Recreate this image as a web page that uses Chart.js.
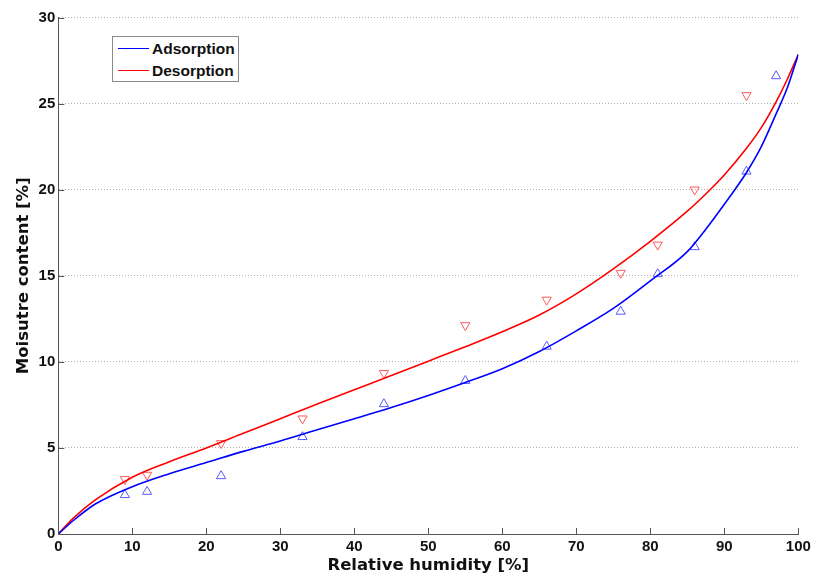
<!DOCTYPE html>
<html>
<head>
<meta charset="utf-8">
<script src="https://cdn.jsdelivr.net/npm/chart.js@4"></script>
<style>
  html, body { margin: 0; padding: 0; background: #fff; }
  #wrap { position: relative; width: 816px; height: 576px; }
  #legend {
    position: absolute; left: 112px; top: 36px; width: 127px; height: 46px;
    border: 1px solid #8a8a8a; background: #fff; box-sizing: border-box;
    font: bold 15.5px "Liberation Sans", Arial, sans-serif; color: #111;
  }
  .row { position: absolute; left: 0; height: 20px; line-height: 20px; white-space: nowrap; }
  .sw { position: absolute; left: 5px; top: 9px; width: 31px; height: 0; border-top: 1.5px solid; }
  .lbl { position: absolute; left: 39px; top: 0; }
</style>
</head>
<body>
<div id="wrap">
  <canvas id="c" width="816" height="576"></canvas>
  <div id="legend">
    <div class="row" style="top:2px"><span class="sw" style="border-color:#0000ff"></span><span class="lbl">Adsorption</span></div>
    <div class="row" style="top:24px"><span class="sw" style="border-color:#ff0000"></span><span class="lbl">Desorption</span></div>
  </div>
</div>
<script>
// Measured data (relative humidity %, moisture content %)
const adsHumidity = [9, 12, 22, 33, 44, 55, 66, 76, 81, 86, 93, 97];
const adsMeasured = [2.27, 2.46, 3.37, 5.64, 7.55, 8.9, 10.89, 12.92, 15.1, 16.67, 21.06, 26.6];
const desHumidity = [9, 12, 22, 33, 44, 55, 66, 76, 81, 86, 93];
const desMeasured = [3.18, 3.43, 5.27, 6.7, 9.34, 12.12, 13.6, 15.16, 16.8, 20.0, 25.48];

// Fitted curves
const fitHumidity = [0, 2, 5, 10, 15, 20, 25, 30, 35, 40, 45, 50, 55, 60, 65, 70, 75, 80, 85, 87.5, 90, 93, 95, 97, 98.5, 100];
const fitAdsorption = [0, 0.77, 1.74, 2.75, 3.5, 4.15, 4.8, 5.4, 6.05, 6.7, 7.35, 8.05, 8.8, 9.6, 10.6, 11.8, 13.1, 14.7, 16.4, 17.7, 19.15, 21.0, 22.5, 24.4, 25.9, 27.85];
const fitDesorption = [0, 0.91, 1.98, 3.3, 4.2, 5.0, 5.85, 6.7, 7.55, 8.38, 9.2, 10.04, 10.88, 11.75, 12.72, 13.95, 15.4, 17.0, 18.75, 19.75, 20.85, 22.4, 23.6, 25.1, 26.4, 27.85];

const xTicks = [0, 10, 20, 30, 40, 50, 60, 70, 80, 90, 100];
const yTicks = [0, 5, 10, 15, 20, 25, 30];

const pts = (xs, ys) => xs.map((x, i) => ({x: x, y: ys[i]}));

const AXIS = '#555555';

const inwardTicks = {
  id: 'inwardTicks',
  afterDraw(chart) {
    const {ctx, scales: {x, y}} = chart;
    ctx.save();
    ctx.strokeStyle = AXIS;
    ctx.lineWidth = 1;
    ctx.beginPath();
    xTicks.forEach(v => {
      const px = Math.round(x.getPixelForValue(v)) + 0.5;
      ctx.moveTo(px, y.bottom);
      ctx.lineTo(px, y.bottom - 6);
    });
    yTicks.forEach(v => {
      const py = Math.round(y.getPixelForValue(v)) + 0.5;
      ctx.moveTo(x.left, py);
      ctx.lineTo(x.left + 6, py);
    });
    ctx.stroke();
    ctx.restore();
  }
};

const tickFont = {family: '"Liberation Sans", Arial, sans-serif', size: 15, weight: 'bold'};
const titleFont = {family: '"DejaVu Sans", sans-serif', size: 16.5, weight: 'bold'};

new Chart(document.getElementById('c'), {
  type: 'scatter',
  data: {
    datasets: [
      {
        label: 'Adsorption',
        data: pts(fitHumidity, fitAdsorption),
        showLine: true, borderColor: '#0000ff', borderWidth: 1.6,
        pointRadius: 0, cubicInterpolationMode: 'monotone', fill: false
      },
      {
        label: 'Desorption',
        data: pts(fitHumidity, fitDesorption),
        showLine: true, borderColor: '#ff0000', borderWidth: 1.6,
        pointRadius: 0, cubicInterpolationMode: 'monotone', fill: false
      },
      {
        label: 'Adsorption data',
        data: pts(adsHumidity, adsMeasured),
        pointStyle: 'triangle', pointRadius: 5.3, pointRotation: 0,
        borderColor: '#5a5aff', backgroundColor: 'rgba(0,0,0,0)', borderWidth: 1, showLine: false
      },
      {
        label: 'Desorption data',
        data: pts(desHumidity, desMeasured),
        pointStyle: 'triangle', pointRadius: 5.3, pointRotation: 180,
        borderColor: '#ff5a5a', backgroundColor: 'rgba(0,0,0,0)', borderWidth: 1, showLine: false
      }
    ]
  },
  options: {
    responsive: false,
    animation: false,
    events: [],
    layout: {padding: {top: 17.5, right: 17.7, left: 0, bottom: 0}},
    plugins: {legend: {display: false}, tooltip: {enabled: false}},
    scales: {
      x: {
        type: 'linear', min: 0, max: 100,
        afterBuildTicks: s => { s.ticks = xTicks.map(v => ({value: v})); },
        afterFit: s => { s.height = 42; },
        grid: {display: false, drawTicks: false, tickLength: 0},
        border: {display: true, color: AXIS, width: 1},
        ticks: {font: tickFont, color: '#111', padding: 4, maxRotation: 0},
        title: {display: true, text: 'Relative humidity [%]', font: titleFont, color: '#111', padding: {top: 0, bottom: 0}}
      },
      y: {
        type: 'linear', min: 0, max: 30,
        afterBuildTicks: s => { s.ticks = yTicks.map(v => ({value: v})); },
        afterFit: s => { s.width = 58.3; },
        grid: {
          display: true, drawTicks: false, tickLength: 0,
          color: ctx => (ctx.tick && ctx.tick.value === 0) ? 'rgba(0,0,0,0)' : '#b0b0b0',
          lineWidth: 1
        },
        border: {display: true, color: AXIS, width: 1, dash: [1, 2]},
        ticks: {font: tickFont, color: '#111', padding: 3},
        title: {display: true, text: 'Moisutre content [%]', font: titleFont, color: '#111', padding: {top: 14, bottom: 0}}
      }
    }
  },
  plugins: [inwardTicks]
});
</script>
</body>
</html>
